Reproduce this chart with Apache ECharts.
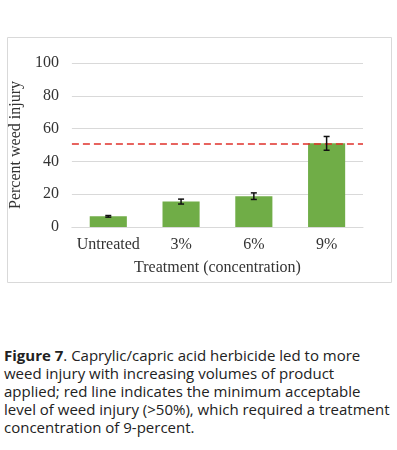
<!DOCTYPE html>
<html>
<head>
<meta charset="utf-8">
<script src="https://cdn.jsdelivr.net/npm/echarts@6/dist/echarts.min.js"></script>
<style>
  html, body { margin: 0; padding: 0; background: #fff; }
  #chart { position: absolute; left: 0; top: 0; width: 397px; height: 300px; }
  #caption {
    position: absolute; left: 4px; top: 346px;
    font-family: "Open Sans", sans-serif; font-size: 15px; line-height: 18px;
    color: #222; white-space: nowrap;
  }
</style>
</head>
<body>
<div id="chart"></div>
<div id="caption"><b>Figure 7</b>. Caprylic/capric acid herbicide led to more<br>weed injury with increasing volumes of product<br>applied; red line indicates the minimum acceptable<br>level of weed injury (&gt;50%), which required a treatment<br>concentration of 9-percent.</div>
<script>
const categories = ['Untreated', '3%', '6%', '9%'];
const injury = [6.5, 15.5, 18.8, 51];
const stdErr = [0.5, 1.5, 2, 4.2];
const threshold = 51;
const yTicks = { min: 0, max: 100, interval: 20 };

const chart = echarts.init(document.getElementById('chart'));
const serif = '"Liberation Serif", "Times New Roman", serif';

function renderErrorBar(params, api) {
	const x = api.value(0);
	const lo = api.coord([x, api.value(1)]);
	const hi = api.coord([x, api.value(2)]);
	const cap = 3;
	const style = { stroke: '#111', lineWidth: 1.5 };
	return {
		type: 'group',
		children: [
			{ type: 'line', shape: { x1: lo[0], y1: lo[1], x2: hi[0], y2: hi[1] }, style: style },
			{ type: 'line', shape: { x1: lo[0] - cap, y1: lo[1], x2: lo[0] + cap, y2: lo[1] }, style: style },
			{ type: 'line', shape: { x1: hi[0] - cap, y1: hi[1], x2: hi[0] + cap, y2: hi[1] }, style: style }
		]
	};
}

chart.setOption({
	animation: false,
	graphic: [{
		type: 'rect',
		shape: { x: 7.5, y: 37.5, width: 384, height: 245 },
		style: { fill: 'none', stroke: '#d9d9d9', lineWidth: 1 }
	}],
	grid: { left: 58, right: 34, top: 63, bottom: 73 },
	xAxis: {
		type: 'category',
		data: categories,
		name: 'Treatment (concentration)',
		nameLocation: 'middle',
		nameGap: 33,
		nameTextStyle: { fontFamily: serif, fontSize: 16, color: '#333' },
		axisLine: { lineStyle: { color: '#d9d9d9' } },
		axisTick: { show: false },
		axisLabel: { fontFamily: serif, fontSize: 16, color: '#333', margin: 10, interval: 0 }
	},
	yAxis: {
		type: 'value',
		min: yTicks.min,
		max: yTicks.max,
		interval: yTicks.interval,
		name: 'Percent weed injury',
		nameLocation: 'middle',
		nameGap: 28,
		nameTextStyle: { fontFamily: serif, fontSize: 16, color: '#333' },
		axisLine: { show: false },
		axisTick: { show: false },
		splitLine: { lineStyle: { color: '#d9d9d9' } },
		axisLabel: { fontFamily: serif, fontSize: 16, color: '#333', margin: 13 }
	},
	series: [
		{
			type: 'bar',
			data: injury,
			barWidth: '51%',
			itemStyle: { color: '#70ad47' },
			markLine: {
				symbol: 'none',
				silent: true,
				label: { show: false },
				lineStyle: { color: '#e0302a', type: [7, 4], width: 1.5 },
				data: [{ yAxis: threshold }]
			}
		},
		{
			type: 'custom',
			renderItem: renderErrorBar,
			encode: { x: 0, y: [1, 2] },
			data: injury.map((v, i) => [i, v - stdErr[i], v + stdErr[i]]),
			z: 10
		}
	]
});
</script>
</body>
</html>
